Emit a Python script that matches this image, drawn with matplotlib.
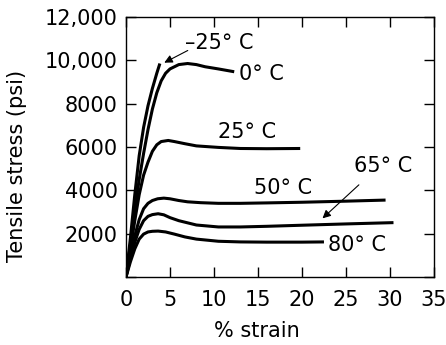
import matplotlib
matplotlib.use("Agg")
import matplotlib.pyplot as plt

# strain (%) / stress (psi)
m25_x = [0, 0.5, 1.0, 1.5, 2.0, 2.5, 3.0, 3.5, 3.85]
m25_y = [0, 1800, 3800, 5600, 6900, 7900, 8700, 9400, 9850]

c0_x = [0, 0.5, 1.0, 1.5, 2.0, 2.5, 3.0, 3.5, 4.0, 4.5, 5.0, 6.0, 7.0, 8.0, 9.0, 10.5, 12.3]
c0_y = [0, 1500, 3100, 4500, 5700, 6800, 7750, 8500, 9050, 9400, 9600, 9800, 9850, 9800, 9700, 9600, 9470]

c25_x = [0, 0.5, 1.0, 1.5, 2.0, 2.5, 3.0, 3.5, 4.0, 4.8, 5.5, 6.7, 8, 10.5, 13, 16, 19.8]
c25_y = [0, 1300, 2600, 3800, 4700, 5300, 5800, 6100, 6250, 6300, 6250, 6150, 6050, 5980, 5930, 5920, 5930]

c50_x = [0, 0.5, 1.0, 1.5, 2.0, 2.5, 3.0, 3.6, 4.3, 5, 6, 7, 8.5, 10.5, 13, 16, 20, 25, 29.5]
c50_y = [0, 1000, 1900, 2650, 3150, 3400, 3530, 3610, 3640, 3610, 3530, 3470, 3430, 3400, 3400, 3420, 3450, 3500, 3550]

c65_x = [0, 0.5, 1.0, 1.5, 2.0, 2.5, 3.0, 3.65, 4.3, 5, 6, 6.7, 8, 10.5, 13, 16, 20, 25, 30.4]
c65_y = [0, 850, 1600, 2200, 2600, 2800, 2880, 2920, 2870, 2740, 2600, 2530, 2400, 2310, 2310, 2340, 2390, 2450, 2510]

c80_x = [0, 0.5, 1.0, 1.5, 2.0, 2.5, 3.0, 3.65, 4.5, 5.5, 6.7, 8, 10.5, 13, 16, 20, 22.5]
c80_y = [0, 700, 1300, 1750, 1980, 2080, 2110, 2120, 2080, 1980, 1850, 1750, 1650, 1620, 1610, 1610, 1620]

x_ticks = [0, 5, 10, 15, 20, 25, 30, 35]
y_ticks = [0, 2000, 4000, 6000, 8000, 10000, 12000]
y_labels = ["", "2000", "4000", "6000", "8000", "10,000", "12,000"]

plt.rcParams["font.family"] = "DejaVu Sans"
FS = 15

fig = plt.figure(figsize=(4.46, 3.45), dpi=100)
ax = fig.add_axes([0.2825, 0.197, 0.6905, 0.754])

for xs, ys in [(m25_x, m25_y), (c0_x, c0_y), (c25_x, c25_y),
               (c50_x, c50_y), (c65_x, c65_y), (c80_x, c80_y)]:
    ax.plot(xs, ys, color="black", lw=2.2, solid_capstyle="butt",
            solid_joinstyle="round")

ax.set_xlim(0, 35)
ax.set_ylim(0, 12000)
ax.set_xticks(x_ticks)
ax.set_xticklabels([str(v) for v in x_ticks])
ax.set_yticks(y_ticks)
ax.set_yticklabels(y_labels)
ax.tick_params(direction="in", length=7, width=1, top=True, right=True,
               labelsize=FS, pad=6)
ax.tick_params(axis="x", pad=9)
for s in ax.spines.values():
    s.set_linewidth(1)

# curve labels
ax.text(6.7, 10780, "–25° C", fontsize=FS, va="center", ha="left")
ax.text(12.8, 9380, "0° C", fontsize=FS, va="center", ha="left")
ax.text(10.4, 6670, "25° C", fontsize=FS, va="center", ha="left")
ax.text(14.6, 4110, "50° C", fontsize=FS, va="center", ha="left")
ax.text(25.9, 5100, "65° C", fontsize=FS, va="center", ha="left")
ax.text(23.0, 1470, "80° C", fontsize=FS, va="center", ha="left")

arrow = dict(arrowstyle="-|>", color="black", lw=0.8, mutation_scale=12)
ax.annotate("", xy=(4.07, 9830), xytext=(7.3, 10510), arrowprops=arrow)
ax.annotate("", xy=(22.1, 2620), xytext=(26.7, 4340), arrowprops=arrow)

fig.text(0.037, 0.52, "Tensile stress (psi)", rotation=90, fontsize=FS,
         ha="center", va="center")
fig.text(0.576, 0.04, "% strain", fontsize=FS, ha="center", va="center")

fig.savefig("out.png", dpi=100)
